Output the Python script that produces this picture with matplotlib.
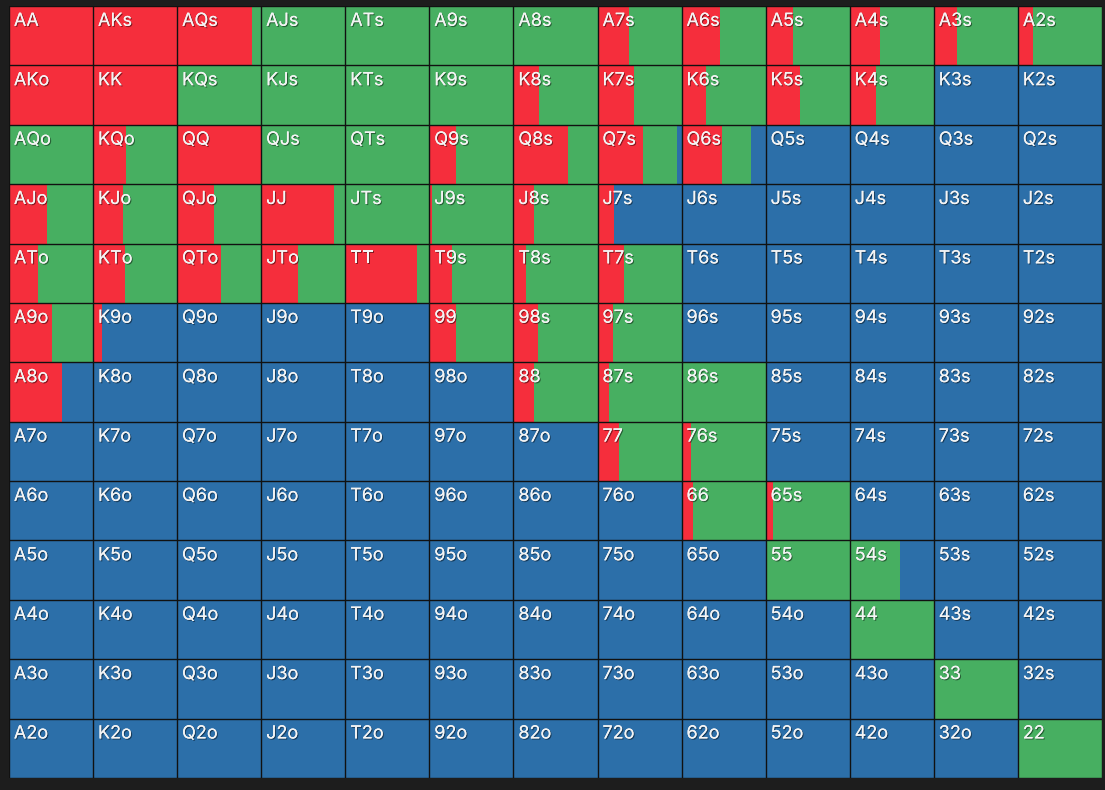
import matplotlib
matplotlib.use("Agg")
import matplotlib.pyplot as plt
import matplotlib.patheffects as pe
import numpy as np

RANKS = ["A", "K", "Q", "J", "T", "9", "8", "7", "6", "5", "4", "3", "2"]

# fraction of each hand that raises (red)
RAISE = [
    [1.00, 1.00, 0.89, 0, 0, 0, 0, 0.38, 0.46, 0.33, 0.36, 0.28, 0.18],
    [1.00, 1.00, 0, 0, 0, 0, 0.30, 0.43, 0.29, 0.41, 0.31, 0, 0],
    [0.01, 0.39, 1.00, 0, 0, 0.32, 0.65, 0.54, 0.48, 0, 0, 0, 0],
    [0.45, 0.35, 0.44, 0.86, 0, 0.035, 0.25, 0.19, 0, 0, 0, 0, 0],
    [0.34, 0.38, 0.52, 0.44, 0.85, 0.27, 0.155, 0.32, 0, 0, 0, 0, 0],
    [0.51, 0.11, 0, 0, 0, 0.32, 0.29, 0.18, 0, 0, 0, 0, 0],
    [0.63, 0, 0, 0, 0, 0, 0.24, 0.14, 0, 0, 0, 0, 0],
    [0, 0, 0, 0, 0, 0, 0, 0.25, 0.11, 0, 0, 0, 0],
    [0, 0, 0, 0, 0, 0, 0, 0, 0.135, 0.09, 0, 0, 0],
    [0, 0, 0, 0, 0, 0, 0, 0, 0, 0, 0, 0, 0],
    [0, 0, 0, 0, 0, 0, 0, 0, 0, 0, 0, 0, 0],
    [0, 0, 0, 0, 0, 0, 0, 0, 0, 0, 0, 0, 0],
    [0, 0, 0, 0, 0, 0, 0, 0, 0, 0, 0, 0, 0],
]

# fraction of each hand that calls (green); the rest folds (blue)
CALL = [
    [0, 0, 0.11, 1, 1, 1, 1, 0.62, 0.54, 0.67, 0.64, 0.72, 0.82],
    [0, 0, 1, 1, 1, 1, 0.70, 0.57, 0.71, 0.59, 0.69, 0, 0],
    [0.99, 0.61, 0, 1, 1, 0.68, 0.35, 0.41, 0.35, 0, 0, 0, 0],
    [0.55, 0.65, 0.56, 0.14, 1, 0.965, 0.75, 0, 0, 0, 0, 0, 0],
    [0.66, 0.62, 0.48, 0.56, 0.15, 0.73, 0.845, 0.68, 0, 0, 0, 0, 0],
    [0.49, 0, 0, 0, 0, 0.68, 0.71, 0.82, 0, 0, 0, 0, 0],
    [0, 0, 0, 0, 0, 0, 0.76, 0.86, 1, 0, 0, 0, 0],
    [0, 0, 0, 0, 0, 0, 0, 0.75, 0.89, 0, 0, 0, 0],
    [0, 0, 0, 0, 0, 0, 0, 0, 0.865, 0.91, 0, 0, 0],
    [0, 0, 0, 0, 0, 0, 0, 0, 0, 1, 0.60, 0, 0],
    [0, 0, 0, 0, 0, 0, 0, 0, 0, 0, 1, 0, 0],
    [0, 0, 0, 0, 0, 0, 0, 0, 0, 0, 0, 1, 0],
    [0, 0, 0, 0, 0, 0, 0, 0, 0, 0, 0, 0, 1],
]

RED = "#F52E3C"
GREEN = "#47AF61"
BLUE = "#2C6FA9"
BG = "#1d1d1d"

raise_arr = np.array(RAISE, dtype=float)
call_arr = np.array(CALL, dtype=float)
fold_arr = np.clip(1 - raise_arr - call_arr, 0, 1)

W, H = 1105, 790
fig = plt.figure(figsize=(W / 100, H / 100), dpi=100, facecolor=BG)
ax = fig.add_axes([9 / W, (H - 778) / H, 1093 / W, 772 / H])
ax.set_facecolor(BLUE)

n = len(RANKS)
for i in range(n):
    for j in range(n):
        r, c, f = raise_arr[i, j], call_arr[i, j], fold_arr[i, j]
        left = j
        for frac, col in ((r, RED), (c, GREEN), (f, BLUE)):
            if frac > 0:
                ax.barh(i + 0.5, frac, left=left, height=1.0, color=col,
                        edgecolor="none", linewidth=0)
                left += frac

for k in range(n + 1):
    ax.axvline(k, color="#111111", lw=1.0, zorder=3)
    ax.axhline(k, color="#111111", lw=1.0, zorder=3)

shadow = [pe.withSimplePatchShadow(offset=(0.8, -0.8), shadow_rgbFace="black", alpha=0.45),
          pe.Normal()]
for i in range(n):
    for j in range(n):
        if i == j:
            lab = RANKS[i] * 2
        elif j > i:
            lab = RANKS[i] + RANKS[j] + "s"
        else:
            lab = RANKS[j] + RANKS[i] + "o"
        ax.text(j + 0.058, i + 0.115, lab, color="#f4f4f4", fontsize=13,
                family="Inter", ha="left", va="top", zorder=4,
                path_effects=shadow)

ax.set_xlim(0, n)
ax.set_ylim(n, 0)
ax.set_xticks([])
ax.set_yticks([])
for s in ax.spines.values():
    s.set_visible(False)

fig.savefig("out.png", dpi=100, facecolor=BG)
